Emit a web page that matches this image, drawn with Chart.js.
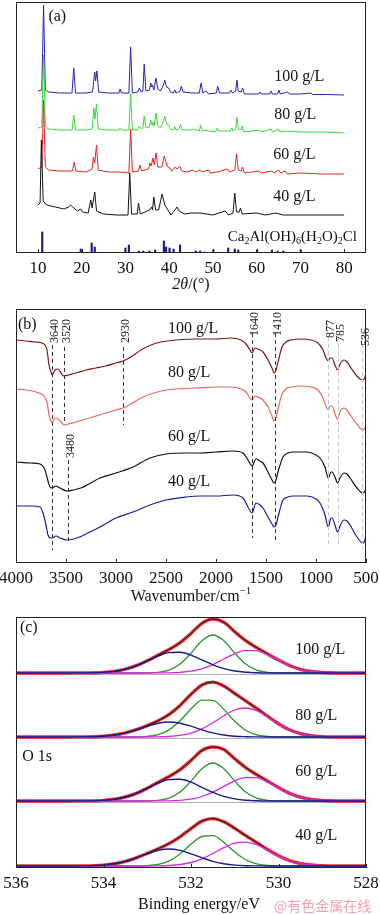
<!DOCTYPE html>
<html>
<head>
<meta charset="utf-8">
<script src="https://cdn.jsdelivr.net/npm/chart.js@4.4.0/dist/chart.umd.min.js"></script>
<style>
html, body { margin: 0; padding: 0; background: #fff; width: 380px; height: 915px; overflow: hidden; }
canvas { position: absolute; left: 0; }
#wm { position: absolute; left: 274px; top: 895px; font: 14px "Noto Sans CJK SC"; color: #f3a3ab; white-space: nowrap; }
</style>
</head>
<body>
<canvas id="xrd" width="380" height="300" style="top:0px"></canvas>
<canvas id="ftir" width="380" height="310" style="top:300px"></canvas>
<canvas id="xps" width="380" height="305" style="top:610px"></canvas>
<div id="wm">@有色金属在线</div>
<script>
// ---- (a) XRD: [2theta, intensity above own baseline]
const concLabels = ['100 g/L', '80 g/L', '60 g/L', '40 g/L'];

const xrd100 = [[10,4],[10.9,5],[11.3,90],[11.7,5],[12.5,3],[15,2],[17.8,2],[18.2,27],[18.6,2],[21,2],[22.5,3],[23.0,23],[23.2,14],[23.5,24],[23.9,3],[26,2],[28.5,2],[28.8,6],[29.1,2],[30.8,2],[31.2,48],[31.6,2],[32.8,3],[33.2,7],[33.6,3],[34.0,4],[34.3,31],[34.7,4],[35.5,5],[35.8,12],[36.0,8],[36.2,10],[36.5,5],[37.0,17],[37.4,6],[38.0,4],[38.7,10],[39.0,15],[39.4,8],[39.9,7],[40.3,3],[41.0,2],[41.3,5],[41.6,2],[42.5,4],[42.8,9],[43.2,3],[45,2],[46.9,2],[47.3,12],[47.7,2],[48.4,4],[49,1],[50.8,2],[51.1,9],[51.5,2],[53.8,2],[54.1,5],[54.5,2],[55.2,4],[55.5,15],[55.8,4],[56.5,3],[56.8,7],[57.2,1],[60.5,1],[60.8,3],[61.1,1],[63,1],[63.3,4],[63.6,1],[64.8,1],[65.1,5],[65.4,1],[67.1,3],[67.5,1],[70,1],[72.4,2],[72.8,0.5],[76,0.5],[80,0]];
const xrd80 = [[10,5],[10.9,6],[11.3,78],[11.7,6],[12.5,4],[15,3],[17.8,3],[18.2,18],[18.6,3],[21,3],[22.4,4],[22.8,25],[23.05,14],[23.4,29],[23.8,4],[26,3],[28.5,3],[28.8,5],[29.1,3],[30.8,3],[31.2,40],[31.6,3],[32.8,3],[33.2,7],[33.6,4],[34.0,5],[34.3,17],[34.7,5],[35.5,6],[35.8,13],[36.1,8],[36.3,11],[36.6,7],[37.0,20],[37.4,7],[38.0,5],[38.7,12],[39.0,17],[39.4,9],[39.9,8],[40.3,4],[41.0,3],[41.3,6],[41.6,3],[42.3,4],[42.6,9],[43.0,3],[45,3],[45.3,4],[46.9,2],[47.2,8],[47.6,2],[49,3],[49.3,1],[50.8,2],[51.0,5],[51.4,2],[54,2],[54.3,5],[54.6,2],[55.2,4],[55.5,16],[55.8,4],[56.4,3],[56.7,7],[57.1,1],[60.8,3],[61.1,1],[63.3,4],[63.6,1],[65,4],[65.3,1],[67,2],[70,1],[75,1],[80,0]];
const xrd60 = [[10,6],[10.9,8],[11.3,75],[11.7,8],[12.5,5],[15,4],[17.9,4],[18.3,13],[18.7,4],[21,3],[22.4,6],[22.7,18],[23.0,12],[23.4,30],[23.8,5],[26,3],[28.8,3],[30.8,2],[31.2,46],[31.6,3],[33.0,4],[33.3,10],[33.7,4],[35.3,6],[35.6,12],[35.9,9],[36.3,17],[36.6,10],[37.0,22],[37.4,8],[38.3,8],[38.9,19],[39.5,9],[40.2,7],[40.6,4],[41.4,8],[41.8,6],[42.4,9],[42.9,4],[44,3],[45.5,5],[46,3],[47,5],[47.5,3],[49,5],[49.4,2],[51,3],[53.4,6],[53.8,3],[55.0,5],[55.4,21],[55.8,5],[56.5,4],[56.8,8],[57.2,2],[60.5,4],[61,2],[63.5,4],[64,2],[65,5],[65.5,2],[66.5,4],[67,1],[70,2],[75,1],[80,1]];
const xrd40 = [[10,10],[10.5,12],[10.8,75],[11.2,14],[12,10],[14,8],[16,6],[17.0,8],[17.5,10],[18.0,8],[19,4],[19.8,6],[20.2,3],[21.5,2],[22.1,15],[22.4,7],[23.0,23],[23.4,4],[25,1],[28,0],[30.6,0],[31.0,42],[31.4,1],[32.7,1],[33.0,12],[33.4,1],[35.5,5],[36.0,8],[36.2,5],[36.5,18],[36.9,5],[37.6,5],[38.4,21],[39.0,10],[39.6,6],[40.4,0],[41.5,6],[41.8,8],[42.3,4],[43.5,1],[45,2],[47,2],[50,0],[52.8,4],[53.6,0],[54.6,2],[55,22],[55.4,3],[56.0,3],[56.3,7],[56.7,1],[60,2],[62,0],[64.4,2],[66,0],[70,0],[80,0]];

// reference pattern Ca2Al(OH)6(H2O)2Cl
const refAngles = [11.0, 19.8, 22.3, 23.0, 30.0, 30.8, 33.1, 34.1, 35.5, 36.8, 38.8, 39.3, 40.1, 41.0, 42.5, 46.1, 47.1, 48.1, 50.1, 53.5, 55.0, 55.8, 60.1, 63.5, 64.8, 66.1, 70.1];
const refHeights = [21, 4, 10, 6, 5, 8, 2, 2, 2, 3, 12, 6, 5, 4, 8, 2, 2, 1, 3, 5, 4, 3, 3, 3, 2, 2, 3];

// ---- (b) FTIR: [wavenumber, transmittance above own baseline]
const ftirBands = [3640, 3520, 3480, 2930, 1640, 1410, 877, 785, 536];
const ftir100 = [[4000,43],[3900,42],[3800,41],[3720,39],[3690,33],[3670,18],[3650,11],[3640,8],[3610,13],[3580,14],[3550,10],[3520,7],[3480,8],[3400,10],[3300,13],[3200,15],[3100,17],[3000,20],[2930,22],[2850,26],[2750,33],[2650,38],[2550,41],[2400,43],[2200,44],[2000,44],[1850,45],[1750,43],[1700,39],[1660,33],[1640,30],[1610,35],[1580,34],[1530,31],[1480,23],[1440,15],[1420,10],[1400,13],[1370,25],[1340,36],[1300,41],[1250,43],[1150,44],[1050,43],[980,40],[930,33],[900,25],[877,22],[860,25],[840,25],[810,18],[785,13],[760,19],[720,23],[690,21],[650,15],[600,8],[560,4],[530,3],[510,6],[500,11]];
const ftir80 = [[4000,41],[3900,40],[3800,38],[3720,34],[3690,28],[3670,15],[3650,9],[3640,7],[3610,12],[3580,11],[3550,8],[3520,5],[3480,6],[3400,8],[3300,11],[3200,14],[3100,17],[3000,20],[2930,22],[2850,26],[2750,32],[2650,36],[2550,39],[2400,41],[2200,42],[2000,43],[1850,43],[1750,41],[1700,38],[1660,32],[1640,30],[1610,34],[1580,33],[1530,30],[1480,23],[1440,14],[1420,9],[1400,12],[1370,25],[1340,36],[1300,41],[1250,43],[1150,44],[1050,43],[980,40],[930,32],[900,24],[877,20],[860,24],[840,24],[810,16],[785,11],[760,18],[720,22],[690,20],[650,14],[600,7],[560,2],[530,0],[510,2],[500,6]];
const ftir60 = [[4000,31],[3850,30],[3760,29],[3710,23],[3680,12],[3660,6],[3640,5],[3600,7],[3560,5],[3490,2],[3430,3],[3350,5],[3290,8],[3160,15],[3000,20],[2830,26],[2660,35],[2500,39],[2300,40],[2160,40],[2000,41],[1830,42],[1730,40],[1680,33],[1640,27],[1600,34],[1560,32],[1530,30],[1480,21],[1440,13],[1420,10],[1400,13],[1380,21],[1330,36],[1280,40],[1230,41],[1090,41],[1000,38],[960,35],[910,26],[877,15],[850,21],[840,21],[810,16],[785,10],[760,15],[720,20],[690,19],[660,15],[590,5],[530,0],[510,2],[500,6]];
const ftir40 = [[4000,37],[3850,37],[3760,36],[3730,30],[3700,18],[3680,8],[3650,5],[3640,5],[3600,7],[3560,5],[3490,3],[3390,5],[3260,11],[3160,16],[3000,25],[2830,31],[2660,38],[2500,43],[2300,46],[2160,47],[2000,47],[1830,48],[1730,45],[1680,36],[1640,30],[1600,40],[1560,38],[1530,35],[1480,26],[1440,19],[1420,16],[1400,18],[1380,26],[1330,43],[1280,46],[1230,47],[1090,47],[1000,44],[960,40],[910,28],[877,16],[850,25],[840,25],[810,18],[785,11],[760,17],[720,23],[690,22],[660,18],[590,6],[530,0],[510,3],[500,10]];

// ---- (c) XPS O 1s
const bindingEnergy = [536, 535, 534.5, 534, 533.75, 533.5, 533.25, 533, 532.75, 532.5, 532.25, 532, 531.75, 531.5, 531.25, 531, 530.75, 530.5, 530.25, 530, 529.75, 529.5, 529.25, 529, 528.5, 528];
const xps100Env   = [0, 0, 0.1, 0.6, 1.6, 3.8, 7.3, 12.2, 17.9, 23.5, 30.3, 39.6, 49.7, 54.0, 50.7, 41.3, 32.4, 25.4, 19.1, 12.9, 7.5, 3.7, 1.5, 0.5, 0, 0];
const xps100Blue  = [0, 0, 0.1, 0.6, 1.6, 3.8, 7.3, 12.1, 17.1, 20.4, 20.7, 17.9, 13.1, 8.2, 4.4, 2.0, 0.8, 0.2, 0, 0, 0, 0, 0, 0, 0, 0];
const xps100Green = [0, 0, 0, 0, 0, 0, 0, 0.1, 0.7, 2.9, 8.9, 19.9, 32.3, 38, 32.3, 19.9, 8.9, 2.9, 0.7, 0.1, 0, 0, 0, 0, 0, 0];
const xps100Pink  = [0, 0, 0, 0, 0, 0, 0, 0, 0.1, 0.2, 0.7, 1.8, 4.3, 8.4, 14.0, 19.4, 22.7, 22.3, 18.4, 12.8, 7.5, 3.7, 1.5, 0.5, 0, 0];
const xps80Env    = [0, 0, 0.1, 0.8, 2.0, 4.1, 7.3, 11.4, 16.3, 22.6, 31.6, 42.7, 52.1, 54.9, 50.9, 43.5, 36.1, 28.6, 20.8, 13.3, 7.2, 3.4, 1.3, 0.4, 0, 0];
const xps80Blue   = [0, 0, 0.1, 0.8, 2.0, 4.1, 7.2, 10.8, 13.8, 15, 13.8, 10.8, 7.2, 4.1, 2.0, 0.8, 0.3, 0.1, 0, 0, 0, 0, 0, 0, 0, 0];
const xps80Green  = [0, 0, 0, 0, 0, 0, 0.1, 0.6, 2.3, 7.1, 16.2, 28.0, 36.8, 36.6, 27.6, 15.7, 6.8, 2.2, 0.6, 0.1, 0, 0, 0, 0, 0, 0];
const xps80Pink   = [0, 0, 0, 0, 0, 0, 0, 0, 0.2, 0.5, 1.6, 3.9, 8.1, 14.2, 21.3, 27.0, 29.0, 26.3, 20.2, 13.2, 7.2, 3.4, 1.3, 0.4, 0, 0];
const xps60Env    = [0, 0, 0.1, 0.6, 1.7, 4.0, 7.6, 12.8, 18.7, 24.5, 31.3, 40.6, 50.5, 54.0, 51.5, 42.2, 33.4, 26.4, 19.9, 13.5, 7.8, 3.9, 1.6, 0.5, 0, 0];
const xps60Blue   = [0, 0, 0.1, 0.6, 1.7, 4.0, 7.6, 12.7, 17.9, 21.4, 21.7, 18.8, 13.7, 8.6, 4.6, 2.1, 0.8, 0.2, 0, 0, 0, 0, 0, 0, 0, 0];
const xps60Green  = [0, 0, 0, 0, 0, 0, 0, 0.1, 0.7, 2.9, 8.9, 19.9, 32.3, 38, 32.3, 19.9, 8.9, 2.9, 0.7, 0.1, 0, 0, 0, 0, 0, 0];
const xps60Pink   = [0, 0, 0, 0, 0, 0, 0, 0, 0.1, 0.2, 0.7, 1.9, 4.5, 8.8, 14.6, 20.2, 23.7, 23.3, 19.2, 13.4, 7.8, 3.9, 1.6, 0.5, 0, 0];
const xps40Env    = [0, 0, 0.1, 0.9, 2.3, 4.6, 8.2, 12.6, 17.3, 22.6, 29.2, 37.4, 44.9, 47.4, 44.2, 37.6, 30.4, 23.5, 16.5, 10.3, 5.5, 2.5, 1.0, 0.3, 0, 0];
const xps40Blue   = [0, 0, 0.1, 0.9, 2.3, 4.6, 8.2, 12.2, 15.6, 17, 15.6, 12.2, 8.2, 4.6, 2.3, 0.9, 0.3, 0.1, 0, 0, 0, 0, 0, 0, 0, 0];
const xps40Green  = [0, 0, 0, 0, 0, 0, 0, 0.4, 1.6, 5.1, 12.1, 21.7, 29.5, 30.3, 23.6, 13.9, 6.2, 2.1, 0.5, 0.1, 0, 0, 0, 0, 0, 0];
const xps40Pink   = [0, 0, 0, 0, 0, 0, 0, 0, 0.1, 0.5, 1.5, 3.5, 7.2, 12.5, 18.3, 22.8, 23.9, 21.3, 16.0, 10.2, 5.5, 2.5, 1.0, 0.3, 0, 0];

// ---------- helpers ----------
const SERIF = '"Liberation Serif", "Times New Roman", serif';

function richText(ctx, parts, x, y, size, align) {
    const fonts = parts.map(p => `${p.i ? 'italic ' : ''}${p.s ? Math.round(size * 0.68) : size}px ${SERIF}`);
    let w = 0;
    parts.forEach((p, k) => { ctx.font = fonts[k]; w += ctx.measureText(p.t).width; });
    let cx = align === 'center' ? x - w / 2 : x;
    ctx.textAlign = 'left';
    ctx.textBaseline = 'middle';
    parts.forEach((p, k) => {
        ctx.font = fonts[k];
        const dy = p.s === 'sub' ? size * 0.3 : (p.s === 'sup' ? -size * 0.35 : 0);
        ctx.fillText(p.t, cx, y + dy);
        cx += ctx.measureText(p.t).width;
    });
}

function xAxis(min, max, step, reverse) {
    return {
        type: 'linear', min, max, reverse,
        grid: { display: false, drawTicks: false },
        border: { display: false },
        ticks: {
            stepSize: step, autoSkip: false, maxRotation: 0, padding: 5, color: '#111',
            font: { family: SERIF, size: 17 },
            callback: v => String(v)
        },
        afterFit(s) { s.height = 47; s.paddingLeft = 0; s.paddingRight = 0; }
    };
}

function yAxis(max) {
    return { display: false, min: 0, max };
}

const framePlugin = {
    id: 'frame',
    afterDatasetsDraw(chart) {
        const { ctx, chartArea: a, scales: { x } } = chart;
        ctx.save();
        ctx.strokeStyle = '#222';
        ctx.lineWidth = 1;
        ctx.strokeRect(a.left + 0.5, a.top + 0.5, a.right - a.left - 1, a.bottom - a.top - 1);
        x.ticks.forEach(t => {
            const px = Math.round(x.getPixelForValue(t.value)) + 0.5;
            ctx.beginPath();
            ctx.moveTo(px, a.bottom);
            ctx.lineTo(px, a.bottom - 4);
            ctx.stroke();
        });
        ctx.restore();
    }
};

function toPoints(pairs, offset) {
    return pairs.map(([x, y]) => ({ x, y: y + offset }));
}

function lineSet(data, color, width, smooth) {
    return {
        type: 'line', data, borderColor: color, borderWidth: width, pointRadius: 0,
        fill: false, tension: 0, cubicInterpolationMode: smooth ? 'monotone' : 'default'
    };
}

const baseOptions = (padding, xs, yMax) => ({
    responsive: false,
    animation: false,
    layout: { padding },
    plugins: { legend: { display: false }, tooltip: { enabled: false } },
    scales: { x: xs, y: yAxis(yMax) }
});

// ---------- (a) XRD ----------
const xrdOffsets = [158, 120, 78, 38];
const xrdColors = ['#2424b0', '#3ad83a', '#e02424', '#111111'];
const xrdSeries = [xrd100, xrd80, xrd60, xrd40];

const xrdSets = [{
    type: 'bar',
    data: refAngles.map((a, i) => ({ x: a, y: refHeights[i] })),
    backgroundColor: '#1c1c84',
    barThickness: 1.5,
    grouped: false
}];
for (let i = 3; i >= 0; i--) {
    xrdSets.push(lineSet(toPoints(xrdSeries[i], xrdOffsets[i]), xrdColors[i], 1, false));
}

new Chart(document.querySelector('#xrd'), {
    type: 'line',
    data: { datasets: xrdSets },
    options: baseOptions({ left: 16, right: 14, top: 2, bottom: 0 }, xAxis(10, 80, 10, false), 251),
    plugins: [framePlugin, {
        id: 'xrdText',
        afterDraw(chart) {
            const { ctx, chartArea: a, scales: { x, y } } = chart;
            ctx.save();
            ctx.fillStyle = '#111';
            richText(ctx, [{ t: '(a)' }], x.getPixelForValue(12.4), y.getPixelForValue(236), 16, 'left');
            const tags = [[64, 176], [64, 138], [63.8, 98], [63.8, 56]];
            tags.forEach((p, i) => richText(ctx, [{ t: concLabels[i] }], x.getPixelForValue(p[0]), y.getPixelForValue(p[1]), 16, 'left'));
            richText(ctx, [{ t: 'Ca' }, { t: '2', s: 'sub' }, { t: 'Al(OH)' }, { t: '6', s: 'sub' }, { t: '(H' }, { t: '2', s: 'sub' }, { t: 'O)' }, { t: '2', s: 'sub' }, { t: 'Cl' }],
                x.getPixelForValue(53.4), y.getPixelForValue(16), 15, 'left');
            richText(ctx, [{ t: '2θ', i: true }, { t: '/(°)' }], (a.left + a.right) / 2, a.bottom + 32, 16, 'center');
            ctx.restore();
        }
    }]
});

// ---------- (b) FTIR ----------
const ftirOffsets = [180, 133, 70, 20];
const ftirColors = ['#7c1818', '#ea6660', '#111111', '#1c1c92'];
const ftirSeries = [ftir100, ftir80, ftir60, ftir40];

const ftirSets = [];
for (let i = 3; i >= 0; i--) {
    ftirSets.push(lineSet(toPoints(ftirSeries[i], ftirOffsets[i]), ftirColors[i], 1.2, true));
}

// per band: [line from, line to, label centre, light line]
const bandMarks = [[13, 218, 232, false], [140, 216, 232, false], [20, 103, 117, false], [138, 216, 232, false],
    [25, 230, 239, false], [23, 230, 239, false], [16, 226, 234, true], [16, 226, 230, true], [13, 226, 226, true]];

new Chart(document.querySelector('#ftir'), {
    type: 'line',
    data: { datasets: ftirSets },
    options: baseOptions({ left: 16, right: 14, top: 9, bottom: 0 }, xAxis(500, 4000, 500, true), 254),
    plugins: [framePlugin, {
        id: 'ftirText',
        afterDatasetsDraw(chart) {
            const { ctx, scales: { x, y } } = chart;
            ctx.save();
            ctx.lineWidth = 1;
            ctx.setLineDash([4, 3]);
            ftirBands.forEach((b, i) => {
                const m = bandMarks[i];
                const px = Math.round(x.getPixelForValue(b)) + 0.5;
                ctx.strokeStyle = m[3] ? '#c4c4c4' : '#333';
                ctx.beginPath();
                ctx.moveTo(px, y.getPixelForValue(m[1]));
                ctx.lineTo(px, y.getPixelForValue(m[0]));
                ctx.stroke();
            });
            ctx.setLineDash([]);
            ctx.fillStyle = '#222';
            ftirBands.forEach((b, i) => {
                const m = bandMarks[i];
                ctx.save();
                ctx.translate(x.getPixelForValue(b) + 3, y.getPixelForValue(m[2]));
                ctx.rotate(-Math.PI / 2);
                ctx.font = `12px ${SERIF}`;
                ctx.textAlign = 'center';
                ctx.textBaseline = 'middle';
                ctx.fillText(String(b), 0, 0);
                ctx.restore();
            });
            ctx.restore();
        },
        afterDraw(chart) {
            const { ctx, chartArea: a, scales: { x, y } } = chart;
            ctx.save();
            ctx.fillStyle = '#111';
            richText(ctx, [{ t: '(b)' }], x.getPixelForValue(3980), y.getPixelForValue(238), 16, 'left');
            const tags = [[2480, 234], [2480, 190], [2480, 126], [2480, 81]];
            tags.forEach((p, i) => richText(ctx, [{ t: concLabels[i] }], x.getPixelForValue(p[0]), y.getPixelForValue(p[1]), 16, 'left'));
            richText(ctx, [{ t: 'Wavenumber/cm' }, { t: '−1', s: 'sup' }], (a.left + a.right) / 2, a.bottom + 34, 16, 'center');
            ctx.restore();
        }
    }]
});

// ---------- (c) XPS ----------
const xpsOffsets = [195, 131, 67, 2];
const xpsPanels = [
    [xps100Env, xps100Blue, xps100Green, xps100Pink],
    [xps80Env, xps80Blue, xps80Green, xps80Pink],
    [xps60Env, xps60Blue, xps60Green, xps60Pink],
    [xps40Env, xps40Blue, xps40Green, xps40Pink]
];

const xpsSets = [];
xpsPanels.forEach(([env, blue, green, pink], i) => {
    const pts = arr => bindingEnergy.map((e, k) => ({ x: e, y: arr[k] + xpsOffsets[i] }));
    xpsSets.push(lineSet(pts(blue), '#1a1a8c', 1.4, true));
    xpsSets.push(lineSet(pts(pink), '#e024e0', 1.3, true));
    xpsSets.push(lineSet(pts(green), '#2a962a', 1.3, true));
    xpsSets.push(lineSet(pts(env), '#1a1a1a', 1, true));
    xpsSets.push(lineSet(pts(env), '#e03030', 3.4, true));
});

new Chart(document.querySelector('#xps'), {
    type: 'line',
    data: { datasets: xpsSets },
    options: baseOptions({ left: 16, right: 14, top: 7, bottom: 0 }, xAxis(528, 536, 2, true), 251),
    plugins: [framePlugin, {
        id: 'xpsText',
        beforeDatasetsDraw(chart) {
            const { ctx, chartArea: a, scales: { y } } = chart;
            ctx.save();
            ctx.strokeStyle = '#b0b0b0';
            ctx.lineWidth = 1;
            xpsOffsets.slice(0, 3).forEach(o => {
                const py = Math.round(y.getPixelForValue(o)) + 1.5;
                ctx.beginPath();
                ctx.moveTo(a.left, py);
                ctx.lineTo(a.right, py);
                ctx.stroke();
            });
            ctx.restore();
        },
        afterDraw(chart) {
            const { ctx, chartArea: a, scales: { x, y } } = chart;
            ctx.save();
            ctx.fillStyle = '#111';
            richText(ctx, [{ t: '(c)' }], x.getPixelForValue(535.91), y.getPixelForValue(240), 16, 'left');
            richText(ctx, [{ t: 'O 1s' }], x.getPixelForValue(535.86), y.getPixelForValue(111), 16, 'left');
            const tags = [[529.62, 218], [529.62, 152], [529.62, 96], [529.62, 32]];
            tags.forEach((p, i) => richText(ctx, [{ t: concLabels[i] }], x.getPixelForValue(p[0]), y.getPixelForValue(p[1]), 16, 'left'));
            richText(ctx, [{ t: 'Binding energy/eV' }], (a.left + a.right) / 2 + 8, a.bottom + 37, 16, 'center');
            ctx.restore();
        }
    }]
});
</script>
</body>
</html>
